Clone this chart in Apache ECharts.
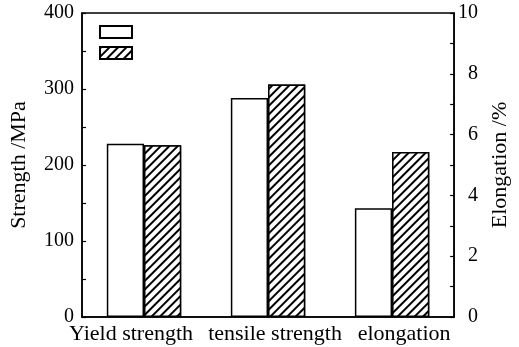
<!DOCTYPE html>
<html>
<head>
<meta charset="utf-8">
<script src="https://cdn.jsdelivr.net/npm/echarts@6/dist/echarts.min.js"></script>
<style>html,body{margin:0;padding:0;background:#fff}#c{width:519px;height:347px}</style>
</head>
<body>
<div id="c"></div>
<script>
// ---- data ----
const categories = ['Yield strength', 'tensile strength', 'elongation'];
const strengthSample1 = [228, 288];   // MPa, open bars
const strengthSample2 = [226, 306];   // MPa, hatched bars
const elongationSample1 = 3.58;       // %, open bar
const elongationSample2 = 5.43;       // %, hatched bar
const strengthTicks = [0, 100, 200, 300, 400];
const elongationTicks = [0, 2, 4, 6, 8, 10];

const FONT = 'Liberation Serif';
const hatch = {
  symbol: 'rect',
  color: '#000',
  backgroundColor: '#fff',
  dashArrayX: [1, 0],
  dashArrayY: [1.5, 3.2],
  rotation: -Math.PI / 4,
  symbolSize: 1
};
const openStyle = { color: '#fff', borderColor: '#000', borderWidth: 1.5 };
const hatchStyle = { color: '#fff', borderColor: '#000', borderWidth: 1.5, decal: hatch };

const s1 = strengthSample1.concat(['-']);
const s2 = strengthSample2.concat(['-']);
const e1 = ['-', '-', elongationSample1];
const e2 = ['-', '-', elongationSample2];

const labelKeys = { 'Yield strength': 'a', 'tensile strength': 'b', 'elongation': 'c' };
const axisBase = {
  axisLine: { show: true, lineStyle: { color: '#000', width: 1.5 } },
  splitLine: { show: false }
};

const chart = echarts.init(document.getElementById('c'), null, { renderer: 'canvas' });
chart.setOption({
  backgroundColor: '#fff',
  animation: false,
  aria: { enabled: true, decal: { show: false } },
  grid: { left: 82, right: 62, top: 13, bottom: 30, show: true, borderColor: '#000', borderWidth: 1.5, backgroundColor: 'transparent' },
  legend: {
    data: ['Sample 1', 'Sample 2'],
    orient: 'vertical',
    left: 94, top: 20,
    itemWidth: 32, itemHeight: 12, itemGap: 7,
    icon: 'rect',
    formatter: () => '',
    selectedMode: false,
    textStyle: { fontSize: 1 }
  },
  xAxis: [
    Object.assign({}, axisBase, {
      type: 'category', data: categories,
      axisTick: { show: false },
      axisLabel: {
        interval: 0, hideOverlap: false,
        margin: 6, color: '#000', fontFamily: FONT, fontSize: 22,
        formatter: v => '{' + labelKeys[v] + '|' + v + '}',
        rich: {
          a: { fontFamily: FONT, fontSize: 22, color: '#000', padding: [0, 26, 0, 0] },
          b: { fontFamily: FONT, fontSize: 22, color: '#000', padding: [0, 0, 0, 14] },
          c: { fontFamily: FONT, fontSize: 22, color: '#000', padding: [0, 0, 0, 24] }
        }
      }
    }),
    { type: 'category', data: categories, show: false }
  ],
  yAxis: [
    Object.assign({}, axisBase, {
      type: 'value', min: strengthTicks[0], max: strengthTicks[strengthTicks.length - 1], interval: 100,
      position: 'left',
      name: 'Strength /MPa', nameLocation: 'middle', nameGap: 52, nameRotate: 90,
      nameTextStyle: { fontFamily: FONT, fontSize: 22, color: '#000' },
      axisTick: { show: true, inside: true, length: 4, lineStyle: { color: '#000', width: 1.2 } },
      minorTick: { show: true, splitNumber: 2, length: 4, lineStyle: { color: '#000', width: 1.2 } },
      axisLabel: { margin: 8, color: '#000', fontFamily: FONT, fontSize: 20 }
    }),
    Object.assign({}, axisBase, {
      type: 'value', min: elongationTicks[0], max: elongationTicks[elongationTicks.length - 1], interval: 2,
      position: 'right',
      name: 'Elongation /%', nameLocation: 'middle', nameGap: 32, nameRotate: 90,
      nameTextStyle: { fontFamily: FONT, fontSize: 22, color: '#000' },
      axisTick: { show: true, inside: true, length: 4, lineStyle: { color: '#000', width: 1.2 } },
      minorTick: { show: true, splitNumber: 2, length: 4, lineStyle: { color: '#000', width: 1.2 } },
      axisLabel: { margin: 24, align: 'right', color: '#000', fontFamily: FONT, fontSize: 20 }
    })
  ],
  series: [
    { name: 'Sample 1', type: 'bar', xAxisIndex: 0, yAxisIndex: 0, data: s1, barWidth: '30%', barGap: '0%', itemStyle: openStyle },
    { name: 'Sample 2', type: 'bar', xAxisIndex: 0, yAxisIndex: 0, data: s2, barWidth: '30%', barGap: '0%', itemStyle: hatchStyle },
    { name: 'Sample 1', type: 'bar', xAxisIndex: 1, yAxisIndex: 1, data: e1, barWidth: '30%', barGap: '0%', itemStyle: openStyle },
    { name: 'Sample 2', type: 'bar', xAxisIndex: 1, yAxisIndex: 1, data: e2, barWidth: '30%', barGap: '0%', itemStyle: hatchStyle }
  ]
});
</script>
</body>
</html>
